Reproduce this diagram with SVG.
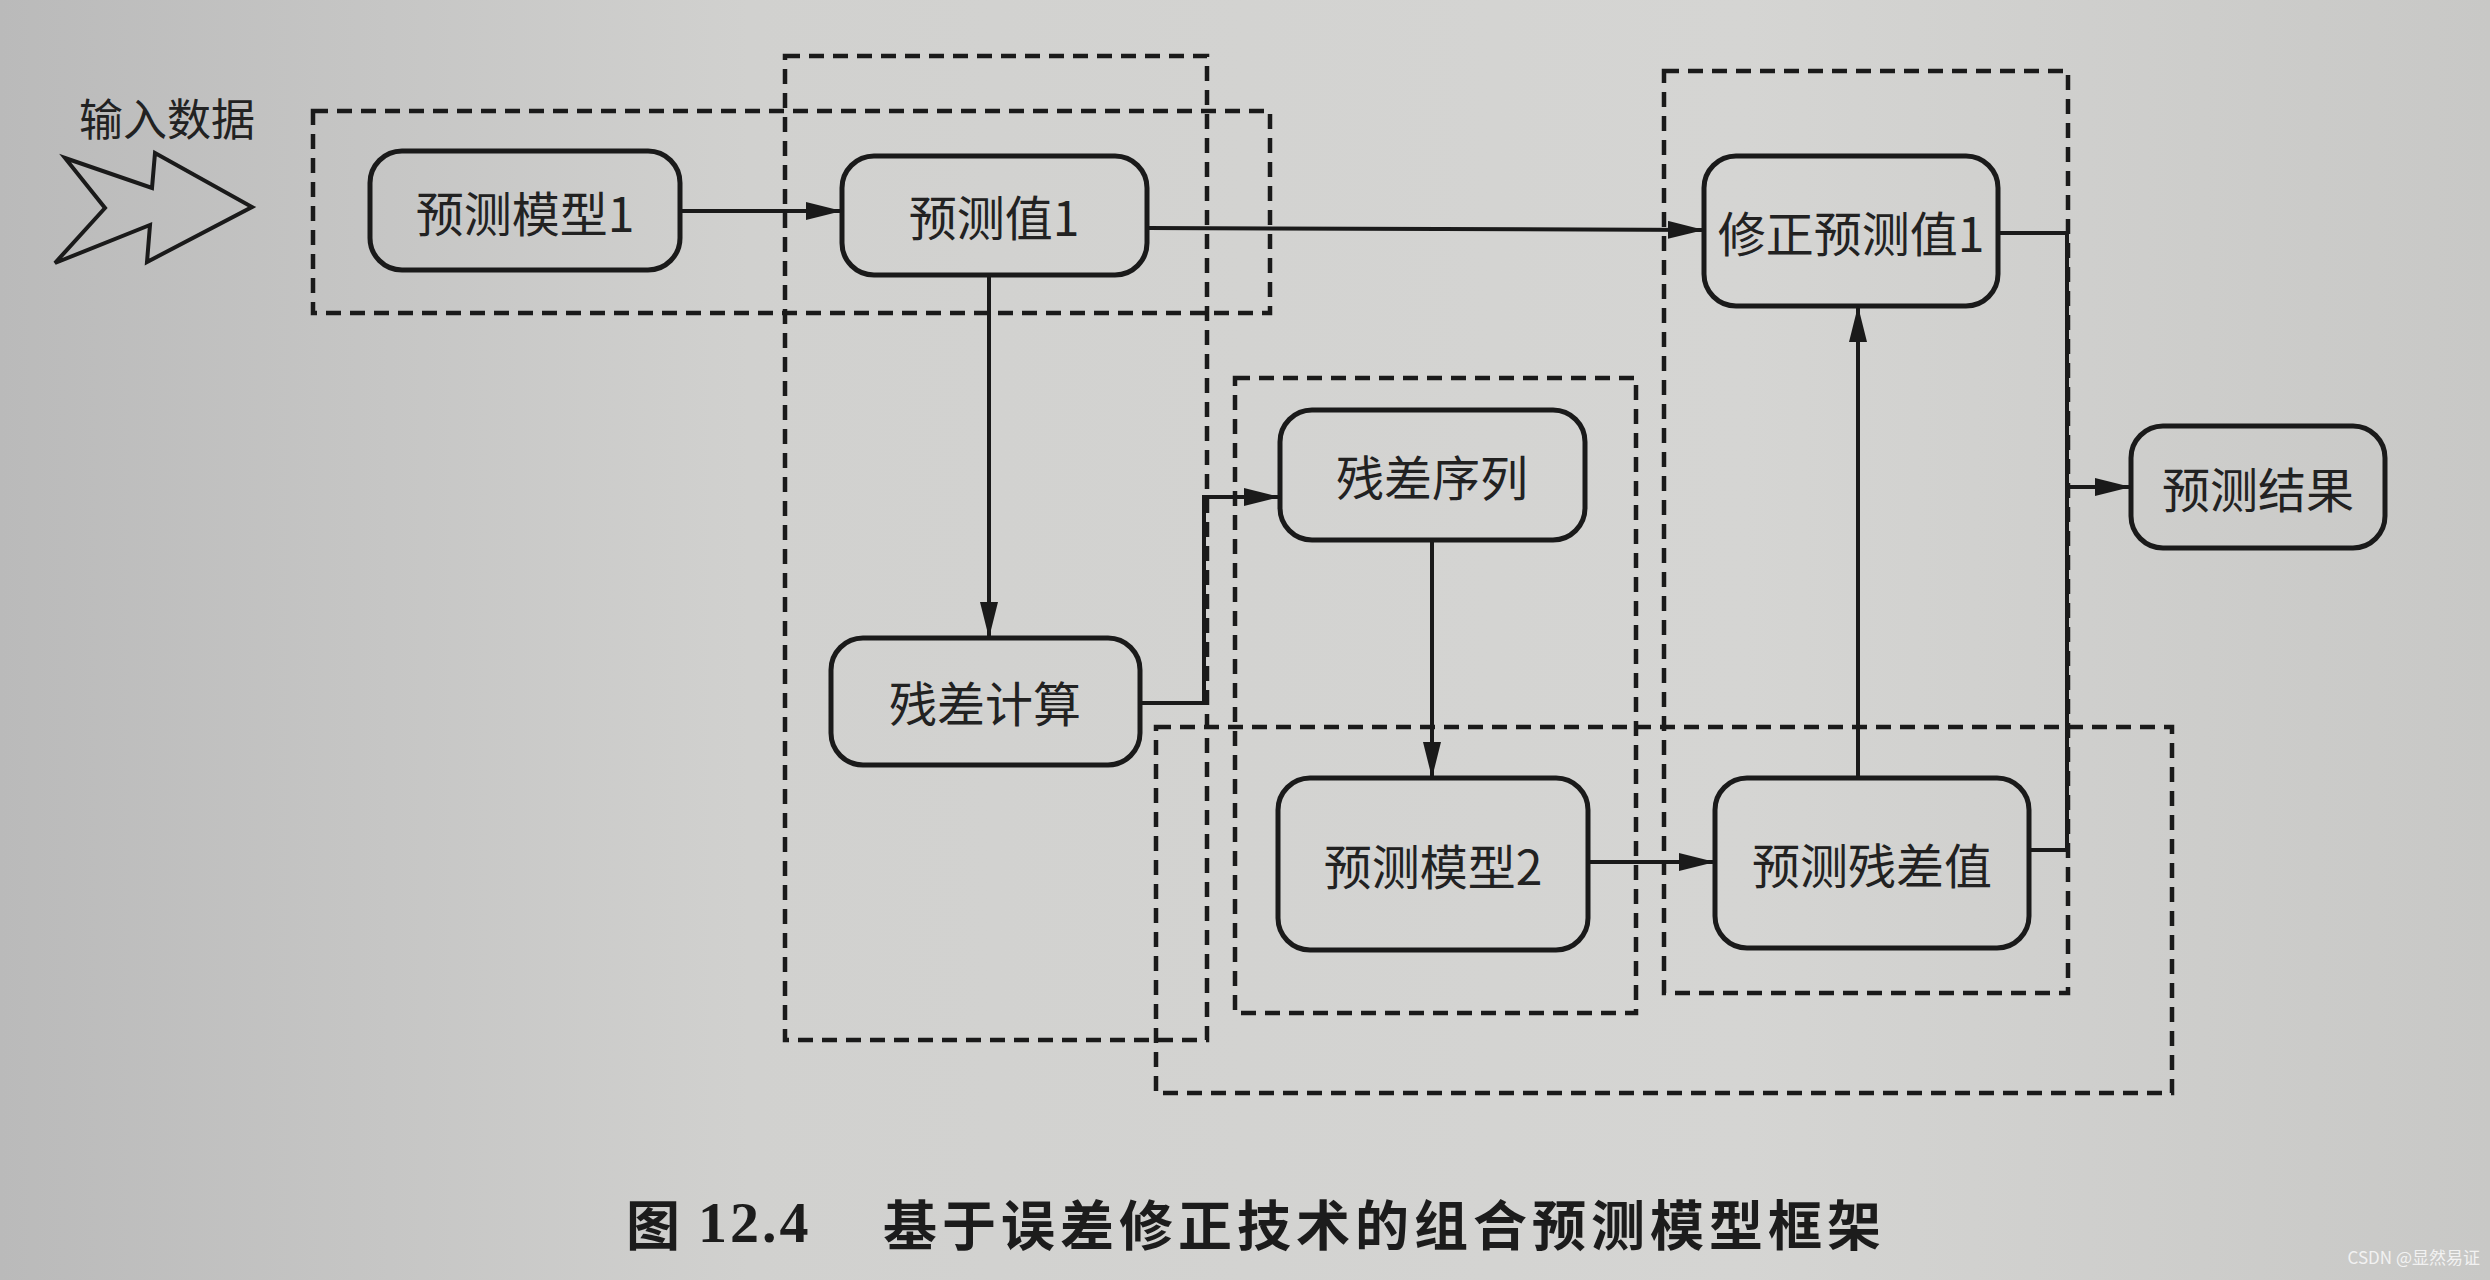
<svg xmlns="http://www.w3.org/2000/svg" width="2490" height="1280" viewBox="0 0 2490 1280">
<defs>
<linearGradient id="bg" x1="0" y1="0" x2="1" y2="0">
<stop offset="0" stop-color="#bababa"/>
<stop offset="0.3" stop-color="#d1d1cf"/>
<stop offset="0.7" stop-color="#d5d5d3"/>
<stop offset="1" stop-color="#c8c8c6"/>
</linearGradient>
<marker id="ah" viewBox="0 0 10 10" refX="10" refY="5" markerWidth="9" markerHeight="4.5" markerUnits="strokeWidth" orient="auto" preserveAspectRatio="none">
<path d="M0,0 L10,5 L0,10 z" fill="#1a1a1a"/>
</marker>
<style>
.node rect{fill:none;stroke:#1a1a1a;stroke-width:5}
.node text{font-family:"Noto Sans CJK SC","Noto Sans",sans-serif;font-size:48px;fill:#222;text-anchor:middle;dominant-baseline:central}
.dash{fill:none;stroke:#1a1a1a;stroke-width:4.5;stroke-dasharray:15 9}
.conn path{fill:none;stroke:#1a1a1a;stroke-width:4;marker-end:url(#ah)}
.conn path.plain{marker-end:none}
.cap{font-family:"Noto Sans CJK SC",sans-serif;font-size:54px;font-weight:bold;fill:#1c1c1c;dominant-baseline:central}
</style>
</defs>
<rect x="0" y="0" width="2490" height="1280" fill="url(#bg)"/>

<g id="groups">
<rect class="dash" x="313" y="111" width="957" height="202"/>
<rect class="dash" x="785" y="56" width="422" height="984"/>
<rect class="dash" x="1235" y="378" width="401" height="635"/>
<rect class="dash" x="1156" y="727" width="1016" height="366"/>
<rect class="dash" x="1664" y="71" width="404" height="922"/>
</g>

<g id="input">
<text x="167" y="117" font-family="'Noto Sans CJK SC',sans-serif" font-size="44" fill="#222" text-anchor="middle" dominant-baseline="central">输入数据</text>
<polygon points="65,158 152,188 155,153 252,207 147,262 150,225 55,263 105,208" fill="none" stroke="#1a1a1a" stroke-width="4" stroke-linejoin="miter"/>
</g>

<g id="n1" class="node"><rect x="370" y="151" width="310" height="119" rx="32"/><text x="525" y="211">预测模型1</text></g>
<g id="n2" class="node"><rect x="842" y="156" width="305" height="119" rx="32"/><text x="994" y="215">预测值1</text></g>
<g id="n3" class="node"><rect x="1704" y="156" width="294" height="150" rx="32"/><text x="1851" y="231">修正预测值1</text></g>
<g id="n4" class="node"><rect x="1280" y="410" width="305" height="130" rx="32"/><text x="1432" y="475">残差序列</text></g>
<g id="n5" class="node"><rect x="2131" y="426" width="254" height="122" rx="32"/><text x="2258" y="487">预测结果</text></g>
<g id="n6" class="node"><rect x="831" y="638" width="309" height="127" rx="32"/><text x="985" y="701">残差计算</text></g>
<g id="n7" class="node"><rect x="1278" y="778" width="310" height="172" rx="32"/><text x="1433" y="864">预测模型2</text></g>
<g id="n8" class="node"><rect x="1715" y="778" width="314" height="170" rx="32"/><text x="1872" y="863">预测残差值</text></g>

<g id="connectors" class="conn">
<path d="M680,211 L842,211"/>
<path d="M1147,228 L1704,230"/>
<path d="M989,275 L989,638"/>
<path d="M1140,703 L1204,703 L1204,497 L1280,497"/>
<path d="M1432,540 L1432,778"/>
<path d="M1588,862 L1715,862"/>
<path d="M1858,778 L1858,306"/>
<path class="plain" d="M1998,233 L2067,233 L2067,850 L2029,850"/>
<path d="M2067,487 L2131,487"/>
</g>

<g id="caption">
<text class="cap" x="626" y="1222">图</text>
<text x="698" y="1222" font-family="'Liberation Serif',serif" font-size="58" font-weight="bold" fill="#1c1c1c" dominant-baseline="central" letter-spacing="3">12.4</text>
<text class="cap" x="883" y="1222" letter-spacing="5">基于误差修正技术的组合预测模型框架</text>
</g>
<text x="2480" y="1264" font-family="'Noto Sans CJK SC',sans-serif" font-size="17" fill="#f2f2f2" text-anchor="end">CSDN @显然易证</text>
</svg>
